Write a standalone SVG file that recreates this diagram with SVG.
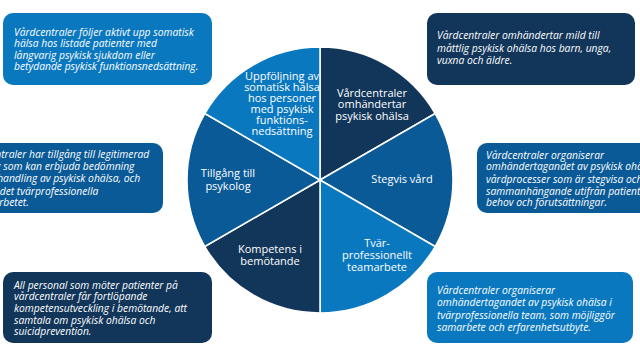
<svg xmlns="http://www.w3.org/2000/svg" width="640" height="360" viewBox="0 0 640 360">
<style>
.navy{fill:#12365a}
.mid{fill:#0a5a97}
.bright{fill:#0a78bf}
.slice{stroke:#ffffff;stroke-width:1.5}
.lbl{font-family:"Open Sans","Noto Sans",sans-serif;font-size:11px;fill:#ffffff;text-anchor:middle}
.note{font-family:"Open Sans","Noto Sans",sans-serif;font-size:10.3px;font-style:italic;fill:#ffffff}
</style>
<rect width="640" height="360" fill="#ffffff"/>
<g id="pie">
  <g id="slice-omhandertar">
    <path class="slice navy" d="M320,180 L320,47 A133,133 0 0 1 435.18,113.5 Z"/>
    <text class="lbl"><tspan x="372" y="96.5">Vårdcentraler</tspan><tspan x="372" y="108">omhändertar</tspan><tspan x="372" y="119.5">psykisk ohälsa</tspan></text>
  </g>
  <g id="slice-stegvis">
    <path class="slice mid" d="M320,180 L435.18,113.5 A133,133 0 0 1 435.18,246.5 Z"/>
    <text class="lbl" x="402" y="183">Stegvis vård</text>
  </g>
  <g id="slice-team">
    <path class="slice bright" d="M320,180 L435.18,246.5 A133,133 0 0 1 320,313 Z"/>
    <text class="lbl"><tspan x="377" y="246.5">Tvär-</tspan><tspan x="377" y="258.5">professionellt</tspan><tspan x="377" y="270.5">teamarbete</tspan></text>
  </g>
  <g id="slice-kompetens">
    <path class="slice navy" d="M320,180 L320,313 A133,133 0 0 1 204.82,246.5 Z"/>
    <text class="lbl"><tspan x="270" y="253">Kompetens i</tspan><tspan x="270" y="265">bemötande</tspan></text>
  </g>
  <g id="slice-psykolog">
    <path class="slice mid" d="M320,180 L204.82,246.5 A133,133 0 0 1 204.82,113.5 Z"/>
    <text class="lbl"><tspan x="228" y="177">Tillgång till</tspan><tspan x="228" y="189.5">psykolog</tspan></text>
  </g>
  <g id="slice-uppfoljning">
    <path class="slice bright" d="M320,180 L204.82,113.5 A133,133 0 0 1 320,47 Z"/>
    <text class="lbl"><tspan x="282" y="80">Uppföljning av</tspan><tspan x="282" y="91">somatisk hälsa</tspan><tspan x="282" y="102">hos personer</tspan><tspan x="282" y="113">med psykisk</tspan><tspan x="282" y="124">funktions-</tspan><tspan x="282" y="135">nedsättning</tspan></text>
  </g>
</g>
<g id="box-top-left">
  <rect class="bright" x="3" y="13" width="209" height="72" rx="10"/>
  <text class="note"><tspan x="14" y="35.5">Vårdcentraler följer aktivt upp somatisk</tspan><tspan x="14" y="47">hälsa hos listade patienter med</tspan><tspan x="14" y="58.5">långvarig psykisk sjukdom eller</tspan><tspan x="14" y="70">betydande psykisk funktionsnedsättning.</tspan></text>
</g>
<g id="box-top-right">
  <rect class="navy" x="427" y="13" width="208" height="72" rx="10"/>
  <text class="note"><tspan x="437" y="39">Vårdcentraler omhändertar mild till</tspan><tspan x="437" y="51.5">måttlig psykisk ohälsa hos barn, unga,</tspan><tspan x="437" y="64">vuxna och äldre.</tspan></text>
</g>
<g id="box-mid-left">
  <rect class="mid" x="-60" y="143" width="223" height="70" rx="10"/>
  <text class="note"><tspan x="-36" y="158">Vårdcentraler har tillgång till legitimerad</tspan><tspan x="-39" y="170">psykolog som kan erbjuda bedömning</tspan><tspan x="-33" y="182.3">och behandling av psykisk ohälsa, och</tspan><tspan x="-32" y="194.5">ingår i det tvärprofessionella</tspan><tspan x="-30" y="206.3">teamarbetet.</tspan></text>
</g>
<g id="box-mid-right">
  <rect class="mid" x="477" y="143" width="200" height="70" rx="10"/>
  <text class="note"><tspan x="486" y="158.5">Vårdcentraler organiserar</tspan><tspan x="486" y="170.3">omhändertagandet av psykisk ohälsa i</tspan><tspan x="486" y="182.5">vårdprocesser som är stegvisa och</tspan><tspan x="486" y="194.5">sammanhängande utifrån patientens</tspan><tspan x="486" y="206.3">behov och förutsättningar.</tspan></text>
</g>
<g id="box-bottom-left">
  <rect class="navy" x="3" y="272" width="209" height="71" rx="10"/>
  <text class="note"><tspan x="14" y="288.5">All personal som möter patienter på</tspan><tspan x="14" y="300.2">vårdcentraler får fortlöpande</tspan><tspan x="14" y="311.8">kompetensutveckling i bemötande, att</tspan><tspan x="14" y="323.5">samtala om psykisk ohälsa och</tspan><tspan x="14" y="335.2">suicidprevention.</tspan></text>
</g>
<g id="box-bottom-right">
  <rect class="bright" x="427" y="272" width="206" height="71" rx="10"/>
  <text class="note"><tspan x="437" y="294.2">Vårdcentraler organiserar</tspan><tspan x="437" y="306.2">omhändertagandet av psykisk ohälsa i</tspan><tspan x="437" y="318.5">tvärprofessionella team, som möjliggör</tspan><tspan x="437" y="330.8">samarbete och erfarenhetsutbyte.</tspan></text>
</g>
</svg>
